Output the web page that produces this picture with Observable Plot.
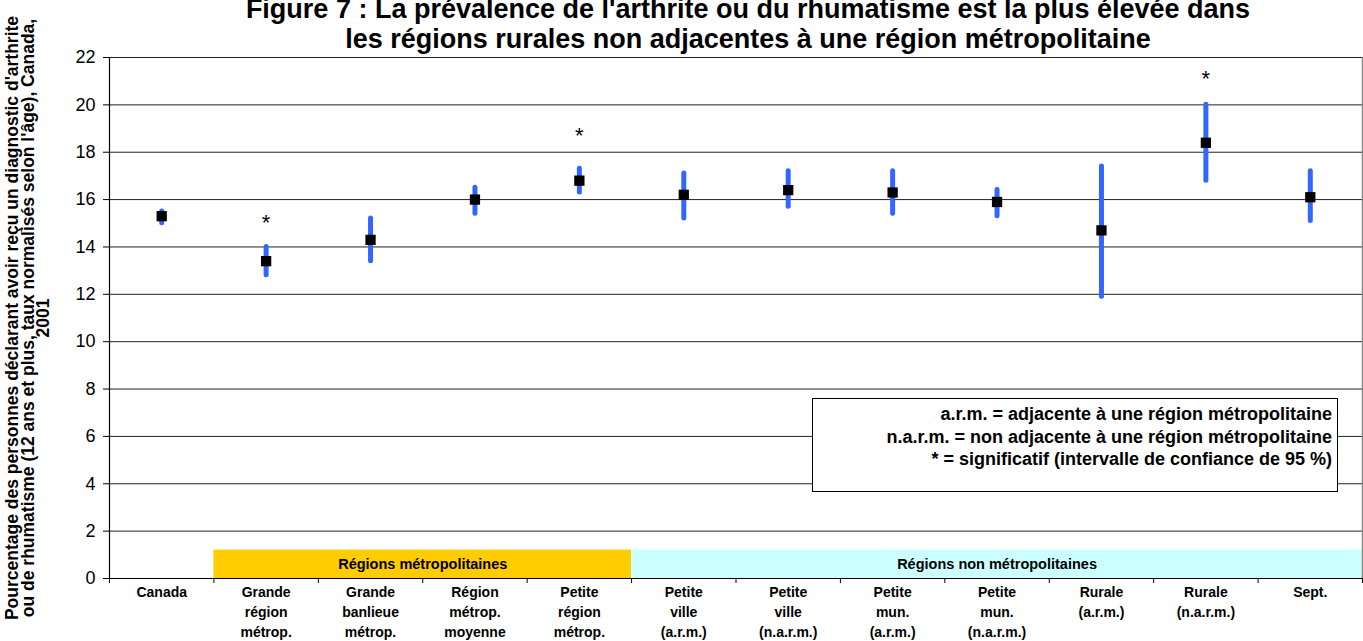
<!DOCTYPE html>
<html>
<head>
<meta charset="utf-8">
<script src="https://cdn.jsdelivr.net/npm/d3@7"></script>
<script src="https://cdn.jsdelivr.net/npm/@observablehq/plot@0.6"></script>
<style>
  html, body { margin: 0; padding: 0; background: #fff; }
  #wrap { position: relative; width: 1363px; height: 641px; overflow: hidden; }
  #title { position: absolute; left: 0; top: -6px; width: 1496px; text-align: center;
    font-family: "Liberation Sans", Arial, sans-serif;
    font-weight: bold; font-size: 27px; line-height: 30px; color: #000; z-index: 2; white-space: nowrap; }
  #legend { position: absolute; left: 812px; top: 398px; width: 526px; height: 94px;
    box-sizing: border-box; border: 1.5px solid #000; background: #fff;
    font-family: "Liberation Sans", Arial, sans-serif;
    font-weight: bold; font-size: 18px; line-height: 22.5px; text-align: right;
    padding: 4px 5px 0 0; color: #000; z-index: 2; white-space: nowrap; }
  #chart { position: absolute; left: 0; top: 0; }
</style>
</head>
<body>
<div id="wrap">
  <div id="chart"></div>
  <div id="title"></div>
  <div id="legend"></div>
</div>
<script>
const titleLines = [
  "Figure 7 : La prévalence de l'arthrite ou du rhumatisme est la plus élevée dans",
  "les régions rurales non adjacentes à une région métropolitaine"
];
const yLabel = "Pourcentage des personnes déclarant avoir reçu un diagnostic d'arthrite\nou de rhumatisme (12 ans et plus, taux normalisés selon l'âge), Canada,\n2001";
const categories = [
  "Canada",
  "Grande\nrégion\nmétrop.",
  "Grande\nbanlieue\nmétrop.",
  "Région\nmétrop.\nmoyenne",
  "Petite\nrégion\nmétrop.",
  "Petite\nville\n(a.r.m.)",
  "Petite\nville\n(n.a.r.m.)",
  "Petite\nmun.\n(a.r.m.)",
  "Petite\nmun.\n(n.a.r.m.)",
  "Rurale\n(a.r.m.)",
  "Rurale\n(n.a.r.m.)",
  "Sept."
];
const rates = [15.3, 13.4, 14.3, 16.0, 16.8, 16.2, 16.4, 16.3, 15.9, 14.7, 18.4, 16.1];
const lower = [15.0, 12.8, 13.4, 15.4, 16.3, 15.2, 15.7, 15.4, 15.3, 11.9, 16.8, 15.1];
const upper = [15.5, 14.0, 15.2, 16.5, 17.3, 17.1, 17.2, 17.2, 16.4, 17.4, 20.0, 17.2];
const significant = [false, true, false, false, true, false, false, false, false, false, true, false];
const starLevel = [null, 15.0, null, null, 18.7, null, null, null, null, null, 21.1, null];
const groups = ["", "Régions métropolitaines", "Régions métropolitaines", "Régions métropolitaines", "Régions métropolitaines",
  "Régions non métropolitaines", "Régions non métropolitaines", "Régions non métropolitaines", "Régions non métropolitaines",
  "Régions non métropolitaines", "Régions non métropolitaines", "Régions non métropolitaines"];
const groupColors = {"Régions métropolitaines": "#FFCC00", "Régions non métropolitaines": "#CCFFFF"};
const yTicks = [0, 2, 4, 6, 8, 10, 12, 14, 16, 18, 20, 22];
const legendLines = [
  "a.r.m. = adjacente à une région métropolitaine",
  "n.a.r.m. = non adjacente à une région métropolitaine",
  "* = significatif (intervalle de confiance de 95 %)"
];

const font = "'Liberation Sans', Arial, sans-serif";
const bandTop = 1.2;

const rows = categories.map((c, i) => ({i, c, rate: rates[i], lo: lower[i], hi: upper[i], sig: significant[i], star: starLevel[i], group: groups[i]}));
const bandRows = rows.filter(d => d.group);
const groupSpans = Array.from(d3.group(bandRows, d => d.group), ([g, v]) => ({
  g, x1: d3.min(v, d => d.i) - 0.5, x2: d3.max(v, d => d.i) + 0.5, x: d3.mean(v, d => d.i)
}));
const n = categories.length;

document.getElementById("title").innerHTML = titleLines.join("<br>");
document.getElementById("legend").innerHTML = legendLines.join("<br>");

const chart = Plot.plot({
  width: 1363,
  height: 641,
  marginLeft: 109,
  marginRight: 1,
  marginTop: 57,
  marginBottom: 63,
  style: {fontFamily: font, background: "#fff", color: "#000"},
  x: {domain: [-0.5, n - 0.5], axis: null},
  y: {domain: [0, 22], axis: null},
  marks: [
    Plot.ruleY(yTicks.slice(1), {stroke: "#222", strokeWidth: 1}),
    Plot.rect(groupSpans, {x1: "x1", x2: "x2", y1: 0, y2: bandTop, fill: d => groupColors[d.g]}),
    Plot.text(groupSpans, {x: "x", y: bandTop / 2, text: "g", fontWeight: "bold", fontSize: 14.5, fill: "#000"}),
    Plot.ruleY([0], {stroke: "#000", strokeWidth: 1.2}),
    Plot.ruleX([-0.5], {stroke: "#000", strokeWidth: 1.2}),
    Plot.ruleX([n - 0.5], {stroke: "#888", strokeWidth: 1.5}),
    Plot.ruleX(rows, {x: "i", y1: "lo", y2: "hi", stroke: "#3366FF", strokeWidth: 5, strokeLinecap: "round"}),
    Plot.dot(rows, {x: "i", y: "rate", symbol: "square", r: 5.8, fill: "#000", stroke: "none"}),
    Plot.text(rows.filter(d => d.sig), {x: "i", y: "star", text: () => "*", fontSize: 22, fill: "#000"}),
    Plot.axisY({ticks: yTicks, tickSize: 6, tickPadding: 8, fontSize: 18, tickFormat: d => d, stroke: "#000"}),
    Plot.axisX({ticks: d3.range(-0.5, n), tickSize: 5, tickFormat: () => "", stroke: "#000"}),
    Plot.axisX({ticks: d3.range(n), tickSize: 0, tickPadding: 5, tickFormat: i => categories[i], fontSize: 14, fontWeight: "bold", lineHeight: 1.4}),
    Plot.text([yLabel], {frameAnchor: "left", text: d => d, rotate: -90, dx: -81, fontSize: 17.5, fontWeight: "bold", lineHeight: 0.9, textAnchor: "middle", fill: "#000"})
  ]
});
document.getElementById("chart").appendChild(chart);
</script>
</body>
</html>
